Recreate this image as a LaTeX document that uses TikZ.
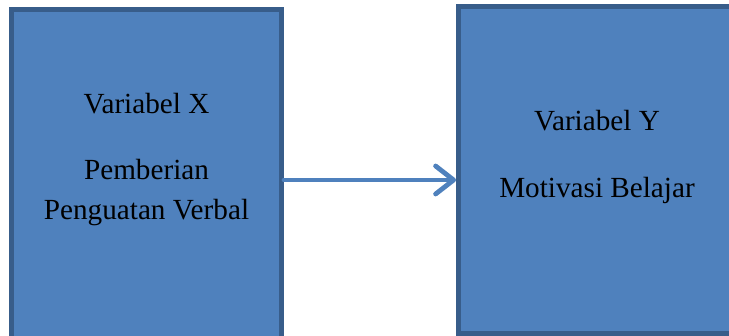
\documentclass[tikz,border=0pt]{standalone}
\usepackage{fontspec}
\setmainfont{Liberation Serif}
\usetikzlibrary{arrows.meta}

\definecolor{boxfill}{HTML}{4F81BD}
\definecolor{boxline}{HTML}{385D8A}

\tikzset{
	varbox/.style={rectangle, fill=boxfill, draw=boxline, line width=2.5pt, inner sep=0pt},
	vartext/.style={align=center, text=black, font=\fontsize{14.6}{20}\selectfont},
	arrowline/.style={draw=boxfill, line width=2.4pt, line cap=round, -{Straight Barb[length=9pt,width=14pt,round]}}
}

\begin{document}
\begin{tikzpicture}[x=0.5pt,y=-0.5pt]
			\useasboundingbox (0,0) rectangle (729,336);
			\clip (0,0) rectangle (729,336);
			
				%Boxes
				\node[varbox, minimum width=135pt, minimum height=175pt] (varX) at (146.5,184.5) {};
				\node[varbox, minimum width=138.5pt, minimum height=163.5pt] (varY) at (597,170) {};
				
				\node[vartext] (textX) at (146.5,160) {Variabel X\\[13pt]Pemberian\\Penguatan Verbal};
				\node[vartext] (textY) at (597,156.5) {Variabel Y\\[13.5pt]Motivasi Belajar};
		
			%Arrow
			\coordinate (arrowrow) at (0,180);
			\draw[arrowline] (varX.east |- arrowrow) -- (varY.west |- arrowrow);
	\end{tikzpicture}
\end{document}
